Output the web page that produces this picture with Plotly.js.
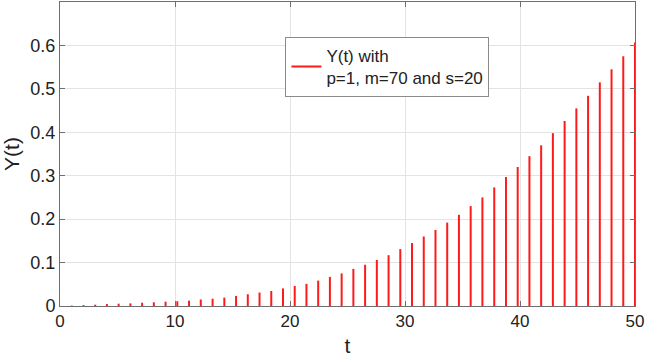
<!DOCTYPE html>
<html>
<head>
<meta charset="utf-8">
<script src="https://cdn.plot.ly/plotly-3.0.1.min.js"></script>
<style>html,body{margin:0;padding:0;background:#fff;}#chart{width:645px;height:362px;}</style>
</head>
<body>
<div id="chart"></div>
<script>
// sample times t (50 samples from 0 to 50)
var t = [0, 1.02, 2.04, 3.06, 4.08, 5.10, 6.12, 7.14, 8.16, 9.18,
         10.20, 11.22, 12.24, 13.27, 14.29, 15.31, 16.33, 17.35, 18.37, 19.39,
         20.41, 21.43, 22.45, 23.47, 24.49, 25.51, 26.53, 27.55, 28.57, 29.59,
         30.61, 31.63, 32.65, 33.67, 34.69, 35.71, 36.73, 37.76, 38.78, 39.80,
         40.82, 41.84, 42.86, 43.88, 44.90, 45.92, 46.94, 47.96, 48.98, 50];
// Y(t) values
var Y = [0, 0.001, 0.002, 0.003, 0.0045, 0.0053, 0.006, 0.0075, 0.0085, 0.01,
         0.011, 0.0123, 0.015, 0.0167, 0.0193, 0.0232, 0.027, 0.031, 0.0345, 0.0405,
         0.046, 0.051, 0.0585, 0.067, 0.075, 0.0855, 0.095, 0.106, 0.117, 0.131,
         0.145, 0.16, 0.175, 0.192, 0.21, 0.23, 0.25, 0.273, 0.297, 0.32,
         0.345, 0.37, 0.398, 0.426, 0.455, 0.484, 0.515, 0.545, 0.575, 0.607];
var seriesName = 'Y(t) with<br>p=1, m=70 and s=20';
var xTicks = [0, 10, 20, 30, 40, 50];
var yTicks = [0, 0.1, 0.2, 0.3, 0.4, 0.5, 0.6];

// build vertical stems from the data
var sx = [], sy = [];
for (var i = 0; i < t.length; i++) {
  sx.push(t[i], t[i], null);
  sy.push(0, Y[i], null);
}

var trace = {
  x: sx, y: sy, type: 'scatter', mode: 'lines',
  line: {color: '#ff1a1a', width: 2},
  name: seriesName, connectgaps: false, showlegend: true
};

var FONT = 'Liberation Sans, Arial, sans-serif';
var axisCommon = {
  showline: true, linecolor: '#6e6e6e', linewidth: 1, mirror: 'ticks',
  ticks: 'inside', ticklen: 5, tickcolor: '#6e6e6e',
  showgrid: true, gridcolor: '#e3e3e3', gridwidth: 1,
  zeroline: false,
  tickfont: {family: FONT, size: 17, color: '#222'}
};

var layout = {
  width: 645, height: 362,
  margin: {l: 60, r: 10, t: 2, b: 56},
  paper_bgcolor: '#fff', plot_bgcolor: '#fff',
  showlegend: true,
  xaxis: Object.assign({}, axisCommon, {
    range: [0, 50], tickvals: xTicks, ticktext: xTicks.map(String),
    title: {text: 't', font: {family: FONT, size: 21, color: '#222'}, standoff: 7}
  }),
  yaxis: Object.assign({}, axisCommon, {
    range: [0, 0.7], tickvals: yTicks, ticktext: yTicks.map(String),
    tickfont: {family: FONT, size: 18, color: '#222'},
    title: {text: 'Y(t)', font: {family: FONT, size: 21, color: '#222'}, standoff: 6}
  }),
  legend: {
    x: 0.392, y: 0.885, xanchor: 'left', yanchor: 'top',
    bgcolor: '#fff', bordercolor: '#8a8a8a', borderwidth: 1,
    font: {family: FONT, size: 17, color: '#222'},
    itemwidth: 30, tracegroupgap: 0
  }
};

Plotly.newPlot('chart', [trace], layout, {displayModeBar: false, staticPlot: true});
</script>
</body>
</html>
